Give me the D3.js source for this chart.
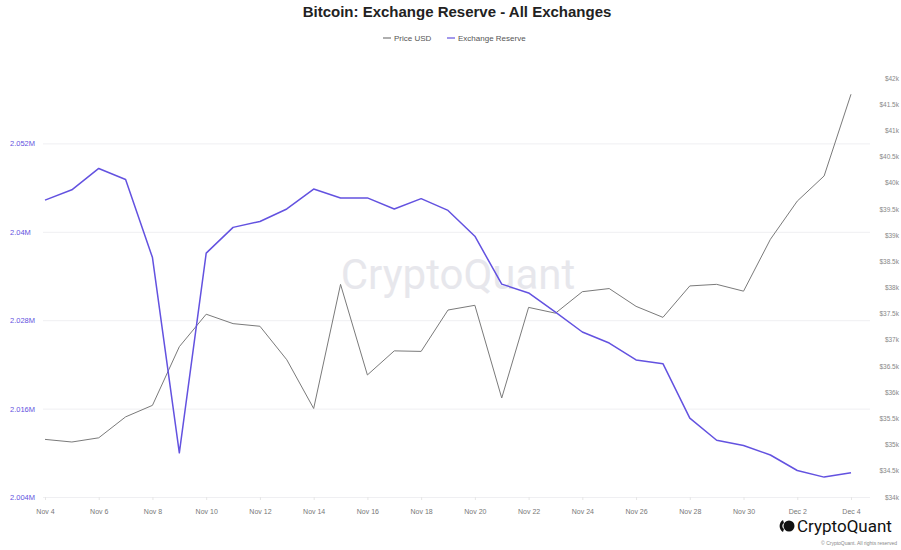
<!DOCTYPE html>
<html>
<head>
<meta charset="utf-8">
<script src="https://cdn.jsdelivr.net/npm/d3@7"></script>
<style>
    body { margin: 0; background: #ffffff; }
    svg { display: block; font-family: "Liberation Sans", Arial, sans-serif; }
</style>
</head>
<body>
<svg id="chart"></svg>
<script>

// daily values, Nov 4 2023 .. Dec 4 2023
const startDate = new Date(2023, 10, 4);
const dates = d3.range(31).map(i => d3.timeDay.offset(startDate, i));

const reserve = [
    2044300, 2045700, 2048600, 2047100, 2036500, 2010000, 2037100, 2040600,
    2041400, 2043100, 2045800, 2044600, 2044600, 2043100, 2044500, 2042900,
    2039400, 2032900, 2031700, 2029100, 2026400, 2024900, 2022600, 2022100,
    2014700, 2011700, 2011000, 2009700, 2007600, 2006700, 2007300
];

const price = [
    35100, 35050, 35130, 35530, 35750, 36870, 37490, 37310, 37260, 36620,
    35690, 38060, 36330, 36790, 36780, 37570, 37660, 35890, 37620, 37510,
    37920, 37980, 37640, 37430, 38030, 38060, 37930, 38920, 39650, 40130,
    41690
];

const reserveTicks = [2004000, 2016000, 2028000, 2040000, 2052000];
const priceTicks = d3.range(34000, 42001, 500);
const seriesNames = ['Price USD', 'Exchange Reserve'];

const width = 901;
const height = 550;
const colors = { price: '#7a7a7a', reserve: '#6352e0' };

const svg = d3.select('#chart')
    .attr('width', width)
    .attr('height', height);

const xScale = d3.scaleTime()
    .domain([dates[0], dates[dates.length - 1]])
    .range([45, 851]);

const yLeft = d3.scaleLinear()
    .domain([2004000, 2004000 + 12000 * (497 - 78) / 88.4])
    .range([497, 78]);

const yRight = d3.scaleLinear()
    .domain([34000, 42000])
    .range([497, 78]);

// title + legend
svg.append('text')
    .attr('x', 457).attr('y', 17)
    .attr('text-anchor', 'middle')
    .attr('font-size', 15)
    .attr('font-weight', 'bold')
    .attr('fill', '#222')
    .text('Bitcoin: Exchange Reserve - All Exchanges');

const legend = svg.append('g').attr('transform', 'translate(383,38)');
const legendX = [0, 64];
legend.selectAll('g')
    .data(seriesNames)
    .join('g')
    .attr('transform', (d, i) => `translate(${legendX[i]},0)`)
    .each(function(d, i) {
        const g = d3.select(this);
        g.append('line')
            .attr('x1', 0).attr('x2', 8)
            .attr('y1', 0).attr('y2', 0)
            .attr('stroke', i === 0 ? colors.price : colors.reserve)
            .attr('stroke-width', 1.2);
        g.append('text')
            .attr('x', 11).attr('y', 2.8)
            .attr('font-size', 8)
            .attr('fill', '#555')
            .text(d);
    });

// grid + left axis
const leftAxis = svg.append('g')
    .attr('transform', 'translate(870,0)')
    .call(d3.axisLeft(yLeft).tickValues(reserveTicks).tickSize(827)
        .tickFormat(v => d3.format('.4~f')(v / 1e6) + 'M'));
leftAxis.select('.domain').remove();
leftAxis.selectAll('.tick line').attr('stroke', '#efeff2').attr('stroke-width', 1);
leftAxis.selectAll('.tick text')
    .attr('x', -860)
    .attr('text-anchor', 'start')
    .attr('font-size', 7.5)
    .attr('fill', '#6352e0');

// right axis (labels only)
const rightAxis = svg.append('g')
    .attr('transform', 'translate(899,0)')
    .call(d3.axisRight(yRight).tickValues(priceTicks).tickSize(0)
        .tickFormat(v => '$' + d3.format('~f')(v / 1000) + 'k'));
rightAxis.select('.domain').remove();
rightAxis.selectAll('.tick text')
    .attr('x', 0)
    .attr('text-anchor', 'end')
    .attr('font-size', 6.5)
    .attr('fill', '#888');

// x axis
const xAxis = svg.append('g')
    .attr('transform', 'translate(0,497)')
    .call(d3.axisBottom(xScale)
        .tickValues(dates.filter((d, i) => i % 2 === 0))
        .tickSize(3)
        .tickFormat(d3.timeFormat('%b %-d')));
xAxis.select('.domain').remove();
xAxis.selectAll('.tick line').attr('stroke', '#e6e6e6');
xAxis.selectAll('.tick text')
    .attr('y', 12)
    .attr('font-size', 7)
    .attr('fill', '#777');

// watermark
svg.append('text')
    .attr('x', 458).attr('y', 289)
    .attr('text-anchor', 'middle')
    .attr('font-family', 'Roboto, "Liberation Sans", sans-serif')
    .attr('font-size', 42)
    .attr('fill', '#e2e2e8')
    .attr('opacity', 0.8)
    .text('CryptoQuant');

// lines
const priceLine = d3.line()
    .x((d, i) => xScale(dates[i]))
    .y(d => yRight(d));

const reserveLine = d3.line()
    .x((d, i) => xScale(dates[i]))
    .y(d => yLeft(d));

svg.append('path')
    .datum(price)
    .attr('fill', 'none')
    .attr('stroke', colors.price)
    .attr('stroke-width', 1)
    .attr('d', priceLine);

svg.append('path')
    .datum(reserve)
    .attr('fill', 'none')
    .attr('stroke', colors.reserve)
    .attr('stroke-width', 1.5)
    .attr('stroke-linejoin', 'round')
    .attr('d', reserveLine);

// logo
const logo = svg.append('g').attr('transform', 'translate(777,526)');
logo.append('path')
    .attr('d', 'M6,-6 A7,7 0 0,0 6,6 L7,3 A3.5,3.5 0 0,1 7,-3 Z')
    .attr('fill', '#111');
logo.append('circle')
    .attr('cx', 12).attr('cy', 0).attr('r', 5.5)
    .attr('fill', '#111');
logo.append('text')
    .attr('x', 20).attr('y', 6)
    .attr('font-family', 'Roboto, "Liberation Sans", sans-serif')
    .attr('font-size', 17)
    .attr('fill', '#111')
    .text('CryptoQuant');
svg.append('text')
    .attr('x', 897).attr('y', 545)
    .attr('text-anchor', 'end')
    .attr('font-size', 5)
    .attr('fill', '#888')
    .text('© CryptoQuant. All rights reserved');

</script>
</body>
</html>
